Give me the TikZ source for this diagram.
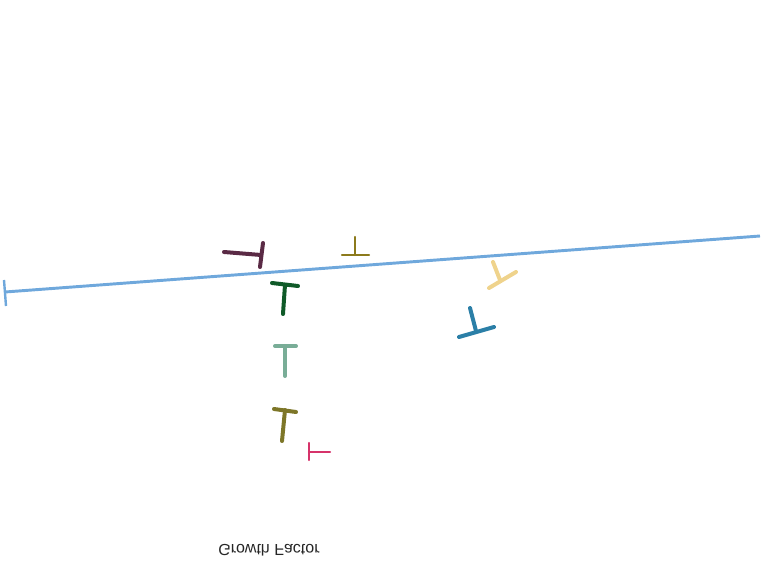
\documentclass[tikz,border=0pt]{standalone}
\usepackage{fontspec}
\setmainfont{Liberation Sans}
\usetikzlibrary{positioning}

\definecolor{trendblue}{HTML}{6FA8DC}
\definecolor{plum}{HTML}{5A2A45}
\definecolor{mustard}{HTML}{8C7A1C}
\definecolor{forest}{HTML}{0F5A28}
\definecolor{sand}{HTML}{EFD38C}
\definecolor{steel}{HTML}{2B7FA7}
\definecolor{sage}{HTML}{79AD97}
\definecolor{khaki}{HTML}{7D7628}
\definecolor{rose}{HTML}{D6336A}

\begin{document}
\begin{tikzpicture}[x=0.75pt, y=-0.75pt,
    errbar/.style={line width=3pt, line cap=round},
    thinbar/.style={line width=1.8pt, line cap=round}]
    \useasboundingbox (0,0) rectangle (765,563);

    % trend line with its end bar
    \coordinate (lineL) at (5,292);
    \coordinate (lineR) at (760,236);
    \coordinate (capT) at (4,280);
    \coordinate (capB) at (6,306);
    \draw[trendblue, line width=2.2pt] (lineL) -- (lineR);
    \draw[trendblue, line width=1.8pt] (capT) -- (capB);

    % plum marker
    \coordinate (p1) at (224,252);
    \coordinate (p2) at (261,255);
    \coordinate (p3) at (263,243);
    \coordinate (p4) at (260,267);
    \draw[plum, errbar] (p1) -- (p2);
    \draw[plum, errbar] (p3) -- (p4);

    % mustard marker
    \coordinate (m1) at (355,237);
    \coordinate (m2) at (355,255);
    \coordinate (m3) at (342,255);
    \coordinate (m4) at (369,255);
    \draw[mustard, thinbar] (m1) -- (m2);
    \draw[mustard, thinbar] (m3) -- (m4);

    % forest marker
    \coordinate (f1) at (272,283);
    \coordinate (f2) at (298,286);
    \coordinate (f3) at (285,285);
    \coordinate (f4) at (283,314);
    \draw[forest, errbar] (f1) -- (f2);
    \draw[forest, errbar] (f3) -- (f4);

    % sand marker
    \coordinate (s1) at (493,262);
    \coordinate (s2) at (500,280);
    \coordinate (s3) at (489,288);
    \coordinate (s4) at (516,272);
    \draw[sand, errbar] (s1) -- (s2);
    \draw[sand, errbar] (s3) -- (s4);

    % steel marker
    \coordinate (b1) at (470,308);
    \coordinate (b2) at (476,331);
    \coordinate (b3) at (459,337);
    \coordinate (b4) at (494,327);
    \draw[steel, errbar] (b1) -- (b2);
    \draw[steel, errbar] (b3) -- (b4);

    % sage marker
    \coordinate (g1) at (275,346);
    \coordinate (g2) at (296,346);
    \coordinate (g3) at (285,346);
    \coordinate (g4) at (285,376);
    \draw[sage, errbar] (g1) -- (g2);
    \draw[sage, errbar] (g3) -- (g4);

    % khaki marker
    \coordinate (k1) at (274,409);
    \coordinate (k2) at (296,412);
    \coordinate (k3) at (285,410);
    \coordinate (k4) at (282,441);
    \draw[khaki, errbar] (k1) -- (k2);
    \draw[khaki, errbar] (k3) -- (k4);

    % rose marker
    \coordinate (r1) at (309,443);
    \coordinate (r2) at (309,460);
    \coordinate (r3) at (309,452);
    \coordinate (r4) at (330,452);
    \draw[rose, thinbar] (r1) -- (r2);
    \draw[rose, thinbar] (r3) -- (r4);

    % flipped axis caption
    \node[transform shape, yscale=-1, text=black!85, font=\fontsize{12}{14}\selectfont, inner sep=0pt] (caption) at (269,550) {Growth Factor};
\end{tikzpicture}
\end{document}
